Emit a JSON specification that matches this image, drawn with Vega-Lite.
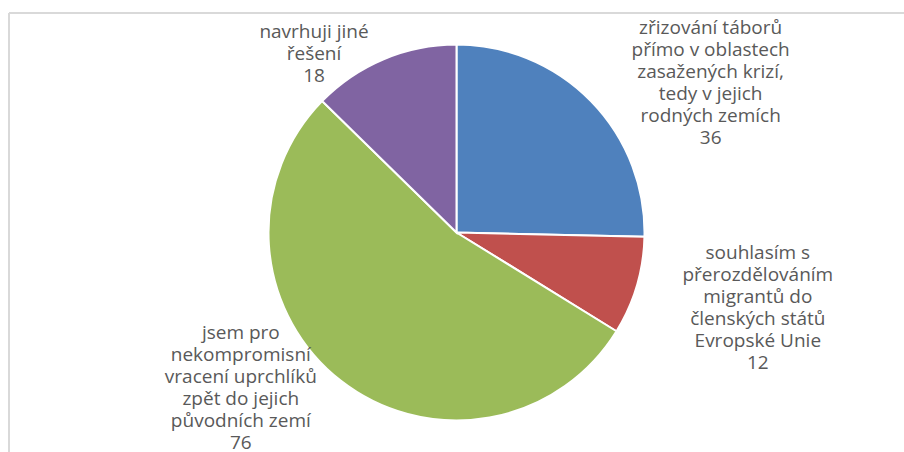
{
  "$schema": "https://vega.github.io/schema/vega-lite/v6.json",
  "width": 895,
  "height": 439,
  "autosize": {"type": "none"},
  "padding": {"left": 9, "top": 13, "right": 0, "bottom": 0},
  "background": "white",
  "view": {"stroke": "#d9d9d9", "strokeWidth": 2, "strokeDash": [895, 1334, 439, 0]},
  "config": {
    "text": {"font": "Open Sans", "fontSize": 19, "lineHeight": 22, "fill": "#595959", "lineBreak": "\n", "align": "center", "baseline": "middle"}
  },
  "data": {
    "values": [
      {"idx": 1, "name": "zřizování táborů\npřímo v oblastech\nzasažených krizí,\ntedy v jejich\nrodných zemích", "value": 36},
      {"idx": 2, "name": "souhlasím s\npřerozdělováním\nmigrantů do\nčlenských států\nEvropské Unie", "value": 12},
      {"idx": 3, "name": "jsem pro\nnekompromisní\nvracení uprchlíků\nzpět do jejich\npůvodních zemí", "value": 76},
      {"idx": 4, "name": "navrhuji jiné\nřešení", "value": 18}
    ]
  },
  "transform": [
    {"stack": "value", "groupby": [], "sort": [{"field": "idx", "order": "ascending"}], "as": ["v0", "v1"]},
    {"calculate": "(datum.v0 + datum.v1) / 2", "as": "mid"},
    {"calculate": "datum.name + '\\n' + datum.value", "as": "label"}
  ],
  "layer": [
    {
      "mark": {"type": "arc", "outerRadius": 188, "stroke": "white", "strokeWidth": 2},
      "encoding": {
        "theta": {"field": "value", "type": "quantitative", "stack": true},
        "order": {"field": "idx", "type": "quantitative", "sort": "ascending"},
        "color": {
          "field": "name", "type": "nominal", "sort": {"field": "idx"},
          "scale": {"range": ["#4F81BD", "#C0504D", "#9BBB59", "#8064A2"]},
          "legend": null
        }
      }
    },
    {
      "transform": [{"filter": "datum.idx == 1"}],
      "mark": {"type": "text", "radius": 326, "thetaOffset": 0.0975},
      "encoding": {"theta": {"field": "mid", "type": "quantitative"}, "text": {"field": "label"}}
    },
    {
      "transform": [{"filter": "datum.idx == 2"}],
      "mark": {"type": "text", "radius": 302, "thetaOffset": -0.2197},
      "encoding": {"theta": {"field": "mid", "type": "quantitative"}, "text": {"field": "label"}}
    },
    {
      "transform": [{"filter": "datum.idx == 3"}],
      "mark": {"type": "text", "radius": 238, "thetaOffset": 0.4706},
      "encoding": {"theta": {"field": "mid", "type": "quantitative"}, "text": {"field": "label"}}
    },
    {
      "transform": [{"filter": "datum.idx == 4"}],
      "mark": {"type": "text", "radius": 246, "thetaOffset": -0.2196},
      "encoding": {"theta": {"field": "mid", "type": "quantitative"}, "text": {"field": "label"}}
    }
  ]
}
